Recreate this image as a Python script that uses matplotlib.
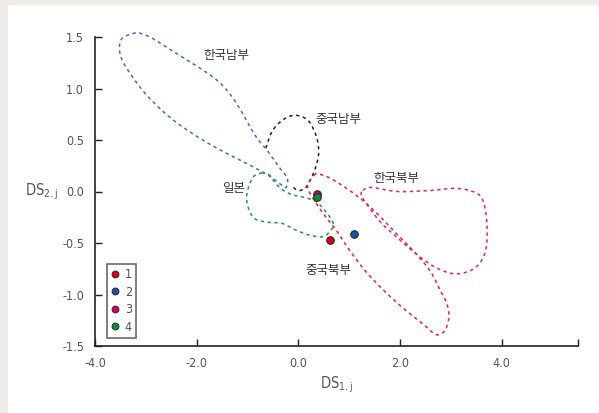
import matplotlib
matplotlib.use("Agg")
import matplotlib.pyplot as plt
import numpy as np
from matplotlib.path import Path
from matplotlib.patches import PathPatch, Rectangle
from matplotlib.lines import Line2D

plt.rcParams['font.family'] = ['DejaVu Sans']
plt.rcParams['font.stretch'] = 'condensed'

# group centroids
pt_labels = ['1', '2', '3', '4']
pt_x = [0.63, 1.10, 0.37, 0.37]
pt_y = [-0.47, -0.41, -0.02, -0.05]
pt_colors = ['#d6001c', '#1d4f9c', '#d6005c', '#0e8a3c']

# region outlines (outline points, smoothed when drawn)
south_korea = [(-3.20, 1.54), (-3.46, 1.49), (-3.52, 1.39), (-3.46, 1.27), (-3.26, 1.11),
               (-3.01, 0.95), (-2.69, 0.79), (-2.37, 0.66), (-1.98, 0.53), (-1.60, 0.42),
               (-1.21, 0.32), (-0.89, 0.24), (-0.57, 0.15), (-0.35, 0.07), (-0.24, 0.04),
               (-0.22, 0.13), (-0.40, 0.25), (-0.60, 0.39), (-0.83, 0.53), (-1.02, 0.69),
               (-1.21, 0.85), (-1.40, 0.98), (-1.60, 1.08), (-1.85, 1.17), (-2.17, 1.27),
               (-2.56, 1.39), (-2.88, 1.49), (-3.07, 1.53)]
south_china = [(-0.64, 0.42), (-0.52, 0.58), (-0.32, 0.69), (-0.07, 0.74), (0.19, 0.69),
               (0.35, 0.54), (0.40, 0.38), (0.33, 0.22), (0.22, 0.10), (0.13, 0.03),
               (0.00, 0.01), (-0.10, 0.04)]
japan = [(-0.71, 0.18), (-0.87, 0.15), (-0.96, 0.07), (-1.02, -0.06), (-0.96, -0.19),
         (-0.84, -0.27), (-0.58, -0.30), (-0.32, -0.31), (-0.07, -0.37), (0.19, -0.42),
         (0.45, -0.44), (0.60, -0.40), (0.68, -0.30), (0.38, -0.11), (0.13, -0.06),
         (-0.13, -0.03), (-0.32, 0.02), (-0.45, 0.08), (-0.57, 0.16)]
north_china = [(0.34, 0.17), (0.21, 0.09), (0.20, 0.01), (0.47, -0.20), (0.75, -0.38),
               (1.02, -0.58), (1.35, -0.79), (1.72, -0.98), (2.08, -1.14), (2.46, -1.29),
               (2.71, -1.39), (2.88, -1.35), (2.96, -1.22), (2.92, -1.09), (2.78, -0.95),
               (2.59, -0.77), (2.27, -0.58), (1.95, -0.42), (1.62, -0.25), (1.30, -0.10),
               (0.98, 0.02), (0.66, 0.12), (0.47, 0.16)]
north_korea = [(1.27, 0.01), (1.43, 0.04), (1.95, 0.00), (2.59, 0.01), (3.10, 0.03),
               (3.48, -0.01), (3.64, -0.10), (3.71, -0.33), (3.68, -0.58), (3.48, -0.74),
               (3.10, -0.80), (2.71, -0.74), (2.33, -0.61), (1.95, -0.45), (1.62, -0.30),
               (1.37, -0.14), (1.24, -0.04)]

region_names = ['한국남부', '중국남부', '일본', '중국북부', '한국북부']
region_pos = [(-1.42, 1.32), (0.79, 0.70), (-1.28, 0.03), (0.60, -0.77), (1.93, 0.13)]


def smooth_path(pts, closed=True):
    p = np.array(pts, dtype=float)
    n = len(p)
    verts = [p[0]]
    codes = [Path.MOVETO]
    segs = n if closed else n - 1
    for i in range(segs):
        p0 = p[(i - 1) % n] if (closed or i > 0) else p[0]
        p1 = p[i % n]
        p2 = p[(i + 1) % n]
        p3 = p[(i + 2) % n] if (closed or i + 2 < n) else p[-1]
        c1 = p1 + (p2 - p0) / 6.0
        c2 = p2 - (p3 - p1) / 6.0
        verts += [c1, c2, p2]
        codes += [Path.CURVE4] * 3
    return Path(verts, codes)


fig = plt.figure(figsize=(5.99, 4.13), dpi=100, facecolor='#efece7')
fig.patches.append(Rectangle((8 / 599, 0), 1, 1 - 5 / 413, transform=fig.transFigure,
                             facecolor='white', edgecolor='none', zorder=-10))
ax = fig.add_axes([95 / 599, 67 / 413, 483 / 599, 309 / 413])
ax.set_facecolor('none')

dash = (0, (2.2, 2.3))
outlines = [(south_china, '#222222', False), (south_korea, '#3b6fc2', True),
            (japan, '#1f9a4a', True), (north_korea, '#e5207a', True),
            (north_china, '#e8213c', True)]
for pts, col, closed in outlines:
    patch = PathPatch(smooth_path(pts, closed), facecolor='none', edgecolor=col,
                      linewidth=1.1, linestyle=dash, clip_on=False)
    ax.add_patch(patch)

for i in range(len(pt_x)):
    ax.scatter(pt_x[i], pt_y[i], s=30, color=pt_colors[i], edgecolors='#222222',
               linewidths=0.7, zorder=5)

for name, (tx, ty) in zip(region_names, region_pos):
    ax.text(tx, ty, name, fontsize=9, color='#333333', ha='center', va='center',
            family=['Noto Sans CJK KR', 'DejaVu Sans'])

ax.set_xlim(-4.0, 5.5)
ax.set_ylim(-1.5, 1.5)
ax.spines['top'].set_visible(False)
ax.spines['right'].set_visible(False)
for s in ['left', 'bottom']:
    ax.spines[s].set_linewidth(1.2)
    ax.spines[s].set_color('#222222')

ax.set_xticks([-4, -2, 0, 2, 4, 5.5])
ax.set_xticklabels(['-4.0', '-2.0', '0.0', '2.0', '4.0', ''])
ax.set_yticks([-1.5, -1.0, -0.5, 0.0, 0.5, 1.0, 1.5])
ax.set_yticklabels(['-1.5', '-1.0', '-0.5', '0.0', '0.5', '1.0', '1.5'])
ax.tick_params(direction='in', length=5, width=1, colors='#222222',
               labelcolor='#555555', labelsize=9, pad=8)

ax.set_xlabel(r'DS$_{\mathregular{1.j}}$', fontsize=10.5, color='#555555', labelpad=3)
ax.set_ylabel(r'DS$_{\mathregular{2.j}}$', fontsize=10.5, color='#555555',
              rotation=0, ha='right', va='center')
ax.yaxis.set_label_coords(-0.077, 0.5)

handles = [Line2D([], [], linestyle='none', marker='o', markersize=5,
                  markerfacecolor=c, markeredgecolor='#222222', markeredgewidth=0.6)
           for c in pt_colors]
leg = ax.legend(handles, pt_labels, loc='lower left', bbox_to_anchor=(0.024, 0.026),
                frameon=True, fancybox=False, fontsize=9, handlelength=0.6,
                handletextpad=0.5, borderpad=0.35, borderaxespad=0, labelspacing=0.35,
                labelcolor='#555555')
leg.get_frame().set_edgecolor('#444444')
leg.get_frame().set_linewidth(1.2)

fig.savefig('out.png', dpi=100, facecolor=fig.get_facecolor())
